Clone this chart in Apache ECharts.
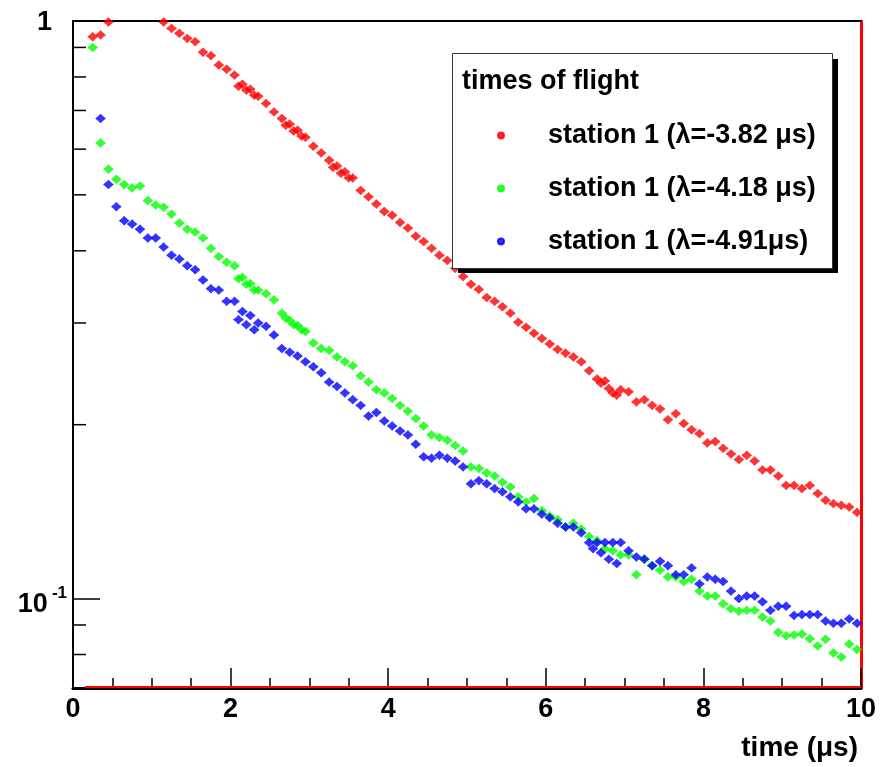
<!DOCTYPE html>
<html>
<head>
<meta charset="utf-8">
<script src="https://cdn.jsdelivr.net/npm/echarts@6/dist/echarts.min.js"></script>
<style>html,body{margin:0;padding:0;background:#fff;}#c{width:891px;height:767px;}</style>
</head>
<body>
<div id="c"></div>
<script>
const seriesNames = ['station 1 (\u03bb=-3.82 \u03bcs)', 'station 1 (\u03bb=-4.18 \u03bcs)', 'station 1 (\u03bb=-4.91\u03bcs)'];
const legendTitle = 'times of flight';
const xAxisName = 'time (\u03bcs)';
const yMinorTicks = [0.08, 0.09, 0.2, 0.3, 0.4, 0.5, 0.6, 0.7, 0.8, 0.9];

const red = [
[0.25,0.939],[0.35,0.946],[0.45,0.996],
[1.15,0.996],[1.25,0.971],[1.35,0.952],[1.45,0.933],[1.55,0.921],[1.65,0.883],[1.75,0.871],[1.85,0.839],[1.95,0.825],[2.05,0.806],[2.10,0.771],[2.15,0.777],[2.20,0.759],[2.25,0.762],[2.30,0.744],[2.35,0.741],[2.45,0.720],[2.55,0.696],[2.65,0.678],[2.70,0.660],[2.75,0.663],[2.80,0.645],[2.85,0.647],[2.90,0.632],[2.95,0.629],[3.05,0.607],[3.15,0.591],[3.25,0.574],[3.30,0.558],[3.35,0.561],[3.40,0.545],[3.45,0.548],[3.50,0.535],[3.55,0.535],[3.65,0.509],[3.75,0.496],[3.85,0.482],[3.95,0.468],[4.05,0.461],[4.15,0.448],[4.25,0.438],[4.35,0.424],[4.45,0.415],[4.55,0.404],[4.65,0.393],[4.75,0.385],[4.85,0.373],[4.95,0.361],[5.05,0.350],[5.15,0.343],[5.25,0.332],[5.35,0.327],[5.45,0.320],[5.55,0.312],[5.65,0.301],[5.75,0.295],[5.85,0.288],[5.95,0.282],[6.05,0.276],[6.15,0.270],[6.25,0.266],[6.35,0.262],[6.45,0.257],[6.55,0.248],[6.65,0.240],[6.70,0.236],[6.75,0.238],[6.80,0.231],[6.85,0.227],[6.90,0.225],[6.95,0.230],[7.05,0.228],[7.15,0.219],[7.25,0.221],[7.35,0.216],[7.45,0.213],[7.55,0.204],[7.65,0.209],[7.75,0.201],[7.85,0.196],[7.95,0.193],[8.05,0.186],[8.15,0.187],[8.25,0.182],[8.35,0.178],[8.45,0.174],[8.55,0.177],[8.65,0.173],[8.75,0.167],[8.85,0.167],[8.95,0.163],[9.05,0.157],[9.15,0.157],[9.25,0.155],[9.35,0.157],[9.45,0.152],[9.55,0.148],[9.65,0.146],[9.75,0.145],[9.85,0.144],[9.95,0.141]
];

const green = [
[0.25,0.900],[0.35,0.615],[0.45,0.554],[0.55,0.532],[0.65,0.521],[0.75,0.514],[0.85,0.518],[0.95,0.489],[1.05,0.480],[1.15,0.476],[1.25,0.463],[1.35,0.447],[1.45,0.436],[1.55,0.431],[1.65,0.421],[1.75,0.404],[1.85,0.391],[1.95,0.382],[2.05,0.377],[2.10,0.358],[2.15,0.360],[2.20,0.350],[2.25,0.351],[2.30,0.342],[2.35,0.342],[2.45,0.337],[2.55,0.329],[2.65,0.312],[2.70,0.306],[2.75,0.303],[2.80,0.298],[2.85,0.297],[2.90,0.292],[2.95,0.290],[3.05,0.277],[3.15,0.271],[3.25,0.269],[3.35,0.262],[3.45,0.257],[3.55,0.253],[3.65,0.243],[3.75,0.237],[3.85,0.230],[3.95,0.227],[4.05,0.222],[4.15,0.216],[4.25,0.211],[4.35,0.205],[4.45,0.199],[4.55,0.192],[4.65,0.190],[4.75,0.188],[4.85,0.184],[4.95,0.180],[5.05,0.169],[5.15,0.168],[5.25,0.165],[5.35,0.163],[5.45,0.159],[5.55,0.156],[5.65,0.150],[5.75,0.147],[5.85,0.149],[5.95,0.142],[6.05,0.139],[6.15,0.137],[6.25,0.133],[6.35,0.135],[6.45,0.132],[6.55,0.128],[6.65,0.126],[6.75,0.122],[6.85,0.121],[6.95,0.119],[7.05,0.119],[7.15,0.110],[7.25,0.117],[7.35,0.114],[7.45,0.112],[7.55,0.109],[7.65,0.109],[7.75,0.107],[7.85,0.108],[7.95,0.103],[8.05,0.101],[8.15,0.101],[8.25,0.0979],[8.35,0.0960],[8.45,0.0951],[8.55,0.0954],[8.65,0.0954],[8.75,0.0929],[8.85,0.0914],[8.95,0.0874],[9.05,0.0862],[9.15,0.0865],[9.25,0.0868],[9.35,0.0852],[9.45,0.0828],[9.55,0.0850],[9.65,0.0805],[9.75,0.0792],[9.85,0.0834],[9.95,0.0816]
];

const blue = [
[0.35,0.678],[0.45,0.521],[0.55,0.477],[0.65,0.451],[0.75,0.445],[0.85,0.436],[0.95,0.421],[1.05,0.421],[1.15,0.406],[1.25,0.393],[1.35,0.387],[1.45,0.377],[1.55,0.371],[1.65,0.356],[1.75,0.344],[1.85,0.342],[1.95,0.327],[2.05,0.327],[2.10,0.304],[2.15,0.314],[2.20,0.298],[2.25,0.309],[2.30,0.292],[2.35,0.300],[2.45,0.296],[2.55,0.286],[2.65,0.271],[2.75,0.267],[2.85,0.263],[2.95,0.257],[3.05,0.252],[3.15,0.246],[3.25,0.237],[3.35,0.233],[3.45,0.227],[3.55,0.221],[3.65,0.216],[3.75,0.207],[3.85,0.210],[3.95,0.203],[4.05,0.199],[4.15,0.195],[4.25,0.192],[4.35,0.185],[4.45,0.176],[4.55,0.175],[4.65,0.177],[4.75,0.175],[4.85,0.173],[4.95,0.169],[5.05,0.158],[5.15,0.160],[5.25,0.158],[5.35,0.155],[5.45,0.153],[5.55,0.150],[5.65,0.147],[5.75,0.143],[5.85,0.143],[5.95,0.140],[6.05,0.138],[6.15,0.135],[6.25,0.133],[6.35,0.133],[6.45,0.130],[6.55,0.125],[6.60,0.122],[6.65,0.125],[6.70,0.120],[6.75,0.125],[6.80,0.117],[6.85,0.125],[6.90,0.115],[6.95,0.125],[7.05,0.121],[7.15,0.118],[7.25,0.117],[7.35,0.114],[7.45,0.116],[7.55,0.114],[7.65,0.110],[7.75,0.110],[7.85,0.113],[7.95,0.106],[8.05,0.109],[8.15,0.108],[8.25,0.107],[8.35,0.103],[8.45,0.100],[8.55,0.101],[8.65,0.101],[8.75,0.0987],[8.85,0.0954],[8.95,0.0970],[9.05,0.0970],[9.15,0.0935],[9.25,0.0938],[9.35,0.0938],[9.45,0.0938],[9.55,0.0914],[9.65,0.0906],[9.75,0.0906],[9.85,0.0922],[9.95,0.0906]
];

const colors = ['#ff0000', '#00ff00', '#0000ff'];
const marker = 'path://M0,-4.5L2.2,-2.2L5,0L2.2,2.2L0,4.5L-2.2,2.2L-5,0L-2.2,-2.2Z';
const FONT = 'Liberation Sans';
const X_MIN = 0, X_MAX = 10, Y_MIN = 0.07, Y_MAX = 1;

const chart = echarts.init(document.getElementById('c'), null, {renderer: 'canvas'});

function mkScatter(name, data, color) {
  return {
    name: name, type: 'scatter', data: data,
    symbol: marker, symbolSize: [10, 9],
    itemStyle: {color: color, borderColor: color, borderWidth: 0.6},
    z: 3
  };
}

const option = {
  animation: false,
  backgroundColor: '#ffffff',
  grid: {left: 73, right: 30, top: 21, bottom: 79, containLabel: false},
  title: {
    text: legendTitle, left: 457, top: 63, z: 30, padding: 5,
    textStyle: {fontFamily: FONT, fontWeight: 'bold', fontSize: 27, color: '#000'}
  },
  legend: {
    orient: 'vertical', left: 497, top: 120, z: 30, padding: 0,
    itemWidth: 6, itemHeight: 6, itemGap: 22,
    icon: 'circle',
    data: seriesNames,
    selectedMode: false,
    textStyle: {fontFamily: FONT, fontWeight: 'bold', fontSize: 27, color: '#000', lineHeight: 31, padding: [0, 0, 0, 39]}
  },
  graphic: [
    {type: 'rect', left: 458, top: 59, z: 20, shape: {width: 380, height: 214}, style: {fill: '#000'}},
    {type: 'rect', left: 452, top: 53, z: 21, shape: {width: 380, height: 215}, style: {fill: '#fff', stroke: '#333', lineWidth: 1}}
  ],
  xAxis: [{
    type: 'value', min: X_MIN, max: X_MAX, interval: 2, position: 'bottom',
    name: xAxisName, nameLocation: 'end', nameGap: 0,
    nameTextStyle: {fontFamily: FONT, fontWeight: 'bold', fontSize: 28, color: '#000', align: 'right', verticalAlign: 'top', padding: [46, 3, 0, 0]},
    axisLine: {show: true, lineStyle: {color: '#000', width: 3}},
    axisTick: {show: true, inside: true, length: 20, lineStyle: {color: '#000', width: 1.5}},
    minorTick: {show: true, splitNumber: 4, length: 10, lineStyle: {color: '#000', width: 1.5}},
    splitLine: {show: false},
    axisLabel: {fontFamily: FONT, fontWeight: 'bold', fontSize: 27, color: '#000', margin: 8}
  }, {
    type: 'value', min: X_MIN, max: X_MAX, position: 'top',
    axisLine: {show: true, onZero: false, lineStyle: {color: '#000', width: 2}},
    axisTick: {show: false}, axisLabel: {show: false}, splitLine: {show: false}
  }],
  yAxis: [{
    type: 'log', logBase: 10, min: Y_MIN, max: Y_MAX, position: 'left',
    axisLine: {show: true, onZero: false, lineStyle: {color: '#000', width: 2}},
    axisTick: {show: true, inside: true, length: 27, lineStyle: {color: '#000', width: 1.5}},
    splitLine: {show: false},
    axisLabel: {
      margin: 6,
      formatter: function (v) {
        if (Math.abs(v - 1) < 1e-9) return '{b|1}';
        if (Math.abs(v - 0.1) < 1e-9) return '{a|10}{s|-1}';
        return '';
      },
      rich: {
        a: {fontFamily: FONT, fontWeight: 'bold', fontSize: 27, color: '#000', padding: [12, 0, 0, 0]},
        b: {fontFamily: FONT, fontWeight: 'bold', fontSize: 27, color: '#000', padding: [4, 15, 0, 0]},
        s: {fontFamily: FONT, fontWeight: 'bold', fontSize: 17, color: '#000', padding: [0, 0, 10, 4]}
      }
    }
  }, {
    type: 'log', logBase: 10, min: Y_MIN, max: Y_MAX, position: 'right',
    axisLine: {show: true, onZero: false, lineStyle: {color: '#ff0000', width: 3}},
    axisTick: {show: false}, axisLabel: {show: false}, splitLine: {show: false}
  }],
  series: [
    Object.assign(mkScatter(seriesNames[0], red, colors[0]), {
      markLine: {
        silent: true, symbol: 'none', animation: false,
        lineStyle: {color: '#ff0000', width: 2, type: 'solid'},
        label: {show: false},
        data: [[{coord: [0.15, 0.0703]}, {coord: [10, 0.0703]}]]
      }
    }),
    mkScatter(seriesNames[1], green, colors[1]),
    mkScatter(seriesNames[2], blue, colors[2]),
    {
      type: 'custom', silent: true, z: 4,
      data: yMinorTicks.map(v => [X_MIN, v]),
      encode: {x: 0, y: 1},
      renderItem: function (params, api) {
        const p = api.coord([api.value(0), api.value(1)]);
        return {type: 'line', shape: {x1: p[0], y1: p[1], x2: p[0] + 13, y2: p[1]}, style: {stroke: '#000', lineWidth: 1.5}};
      }
    }
  ]
};
chart.setOption(option);
</script>
</body>
</html>
